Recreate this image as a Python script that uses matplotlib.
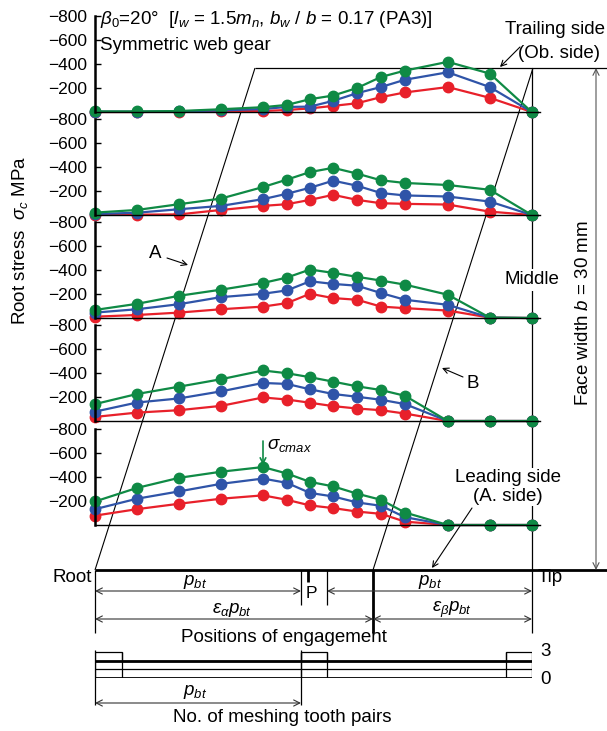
import matplotlib
matplotlib.use("Agg")
import matplotlib.pyplot as plt

plt.rcParams['font.family'] = ['Liberation Sans', 'DejaVu Sans']
plt.rcParams['mathtext.fontset'] = 'custom'
plt.rcParams['mathtext.rm'] = 'Liberation Sans'
plt.rcParams['mathtext.it'] = 'Liberation Sans:italic'
plt.rcParams['mathtext.bf'] = 'Liberation Sans:bold'

# positions of engagement along the face (root -> tip)
positions = [0, 1, 2, 3, 4, 4.57, 5.12, 5.67, 6.24, 6.81, 7.38, 8.40, 9.40, 10.40]

# root stress, MPa (trailing side at top ... leading side at bottom)
s1_green = [-5, -5, -8, -23, -40, -59, -107, -137, -200, -292, -345, -418, -320, 0]
s1_blue = [-3, -3, -5, -13, -25, -42, -45, -93, -157, -208, -269, -331, -208, 0]
s1_red = [0, 0, -3, -8, -8, -17, -30, -51, -73, -124, -163, -208, -118, 0]

s2_green = [-20, -42, -90, -137, -233, -295, -358, -393, -345, -289, -267, -250, -210, 0]
s2_blue = [-8, -19, -48, -76, -132, -177, -227, -286, -244, -183, -163, -154, -112, 0]
s2_red = [-3, -3, -5, -42, -76, -90, -126, -168, -126, -98, -93, -87, -28, 0]

s3_green = [-67, -118, -185, -236, -292, -337, -404, -376, -343, -312, -278, -194, -3, 0]
s3_blue = [-45, -73, -115, -174, -202, -230, -306, -284, -269, -208, -152, -110, -3, 0]
s3_red = [-11, -25, -45, -73, -95, -124, -202, -166, -152, -95, -82, -62, -3, 0]

s4_green = [-141, -225, -286, -348, -421, -398, -365, -328, -289, -258, -210, 0, 0, 0]
s4_blue = [-78, -154, -188, -247, -317, -309, -264, -225, -202, -177, -141, 0, 0, 0]
s4_red = [-34, -70, -90, -126, -196, -179, -152, -124, -104, -90, -62, 0, 0, 0]

s5_green = [-196, -309, -393, -444, -483, -429, -359, -322, -261, -210, -104, 0, 0, 0]
s5_blue = [-132, -219, -280, -343, -387, -351, -267, -238, -188, -160, -65, 0, 0, 0]
s5_red = [-78, -132, -177, -219, -247, -210, -163, -141, -112, -93, -28, 0, 0, 0]

yticks = [-800, -600, -400, -200]

# number of meshing tooth pairs
mesh_edges = [0, 0.64, 4.90, 5.52, 9.79, 10.40]
mesh_pairs = [3, 2, 3, 2, 3]

RED = '#e8202a'
BLUE = '#2f54a8'
GREEN = '#0f8a45'
FS = 13.5

W, H = 607, 731
fig = plt.figure(figsize=(W / 100, H / 100), dpi=100)

# overlay axes in pixel units for the sketch lines and labels
ov = fig.add_axes([0, 0, 1, 1])
ov.set_xlim(0, W)
ov.set_ylim(H, 0)
ov.axis('off')


def line(x, y, lw=0.9, color='k'):
    ov.plot(x, y, color=color, lw=lw, solid_capstyle='butt')


def dim(x1, x2, y, style='<->'):
    ov.annotate('', xy=(x2, y), xytext=(x1, y),
                arrowprops=dict(arrowstyle=style, lw=0.8, color='#333333',
                                shrinkA=0, shrinkB=0, mutation_scale=11))


# parallelogram of the contact zone
line([255, 607], [68, 68])
line([95, 255], [570, 68], lw=0.8)
line([373, 533], [570, 68], lw=0.8)
line([532, 532], [68, 633])
line([95, 607], [570, 570], lw=2)

# face width
ov.annotate('', xy=(596, 68), xytext=(596, 570),
            arrowprops=dict(arrowstyle='<->', lw=0.8, color='#555555',
                            shrinkA=0, shrinkB=0, mutation_scale=11))
ov.text(583, 313, 'Face width $b$ = 30 mm', rotation=90, ha='center',
        va='center', fontsize=FS)

# dimensions along positions of engagement
line([95, 95], [570, 633])
line([301, 301], [570, 605])
line([308, 308], [570, 582], lw=2)
line([327, 327], [570, 605])
line([373, 373], [570, 633], lw=2)
dim(95, 301, 591)
dim(327, 532, 591)
dim(95, 373, 619)
dim(373, 532, 619)
ov.text(195, 582, '$p_{bt}$', ha='center', va='center', fontsize=FS)
ov.text(311, 593, 'P', ha='center', va='center', fontsize=FS - 1)
ov.text(430, 582, '$p_{bt}$', ha='center', va='center', fontsize=FS)
ov.text(232, 610, r'$\varepsilon_{\alpha}p_{bt}$', ha='center', va='center', fontsize=FS)
ov.text(452, 610, r'$\varepsilon_{\beta}p_{bt}$', ha='center', va='center', fontsize=FS)
ov.text(92, 578, 'Root', ha='right', va='center', fontsize=FS)
ov.text(538, 578, 'Tip', ha='left', va='center', fontsize=FS)
ov.text(284, 638, 'Positions of engagement', ha='center', va='center', fontsize=FS)

# meshing tooth pairs dimension
line([95, 95], [650, 705])
line([301, 301], [650, 705])
dim(95, 301, 703)
ov.text(195, 692, '$p_{bt}$', ha='center', va='center', fontsize=FS)
ov.text(282, 717, 'No. of meshing tooth pairs', ha='center', va='center', fontsize=FS)
ov.text(540, 651, '3', ha='left', va='center', fontsize=FS)
ov.text(540, 680, '0', ha='left', va='center', fontsize=FS)

# labels and callouts
ov.text(100, 20, r'$\beta_0$=20$\degree$  [$l_w$ = 1.5$m_n$, $b_w$ / $b$ = 0.17 (PA3)]',
        ha='left', va='center', fontsize=FS)
ov.text(100, 45, 'Symmetric web gear', ha='left', va='center', fontsize=FS)
ov.text(20, 240, r'Root stress  $\sigma_c$ MPa', rotation=90, ha='center',
        va='center', fontsize=FS)
ov.text(605, 30, 'Trailing side', ha='right', va='center', fontsize=FS)
ov.text(518, 53, '(Ob. side)', ha='left', va='center', fontsize=FS)
ov.annotate('', xy=(500, 67), xytext=(520, 47),
            arrowprops=dict(arrowstyle='->', lw=0.8, color='k', shrinkA=0, shrinkB=0))
ov.text(155, 253, 'A', ha='center', va='center', fontsize=FS)
ov.annotate('', xy=(188, 265), xytext=(167, 258),
            arrowprops=dict(arrowstyle='->', lw=0.8, color='k', shrinkA=0, shrinkB=0))
ov.text(473, 383, 'B', ha='center', va='center', fontsize=FS)
ov.annotate('', xy=(442, 368), xytext=(463, 377),
            arrowprops=dict(arrowstyle='->', lw=0.8, color='k', shrinkA=0, shrinkB=0))
ov.text(532, 280, 'Middle', ha='center', va='center', fontsize=FS,
        bbox=dict(fc='white', ec='none', pad=2))
ov.text(508, 487, 'Leading side\n(A. side)', ha='center', va='center', fontsize=FS,
        linespacing=1.15, bbox=dict(fc='white', ec='none', pad=1))
ov.annotate('', xy=(432, 568), xytext=(472, 508),
            arrowprops=dict(arrowstyle='->', lw=0.8, color='k', shrinkA=0, shrinkB=0))

# five stress panels
panels = [
    (112, s1_red, s1_blue, s1_green),
    (215, s2_red, s2_blue, s2_green),
    (318, s3_red, s3_blue, s3_green),
    (421, s4_red, s4_blue, s4_green),
    (525, s5_red, s5_blue, s5_green),
]
x_left, x_right, ph = 95, 540, 96
for base, red, blue, green in panels:
    ax = fig.add_axes([x_left / W, 1 - base / H, (x_right - x_left) / W, ph / H])
    ax.patch.set_visible(False)
    for vals, c in [(red, RED), (blue, BLUE), (green, GREEN)]:
        ax.plot(positions, vals, color=c, lw=1.6, marker='o', ms=7.5,
                clip_on=False)
    ax.set_xlim(0, (x_right - x_left) / 42)
    ax.set_ylim(0, -800)
    ax.set_yticks(yticks)
    ax.set_xticks([])
    ax.tick_params(axis='y', direction='in', length=4, width=1, labelsize=FS - 1, pad=6)
    ax.spines['top'].set_visible(False)
    ax.spines['right'].set_visible(False)
    ax.spines['left'].set_linewidth(1.8)
    ax.spines['bottom'].set_linewidth(1.0)
    if base == 525:
        ax.annotate('', xy=(positions[4], s5_green[4] - 15), xytext=(positions[4], -700),
                    arrowprops=dict(arrowstyle='->', lw=1.2, color=GREEN,
                                    shrinkA=0, shrinkB=0))
        ax.text(positions[4] + 0.1, -660, r'$\sigma_{cmax}$', ha='left', va='center',
                fontsize=FS)

# number of meshing tooth pairs
mx = fig.add_axes([95 / W, 1 - 678.3 / H, 437 / W, 28.3 / H])
mx.patch.set_visible(False)
mx.set_xlim(0, 10.40)
mx.set_ylim(0, 3.2)
mx.axis('off')
mx.stairs(mesh_pairs, mesh_edges, color='k', lw=0.9, baseline=None)
mx.vlines(mesh_edges, 0, 3, color='k', lw=0.9)
mx.axhline(2, color='k', lw=2)
mx.axhline(1, color='k', lw=0.9)
mx.axhline(0, color='k', lw=2)

fig.savefig('out.png', dpi=100)
